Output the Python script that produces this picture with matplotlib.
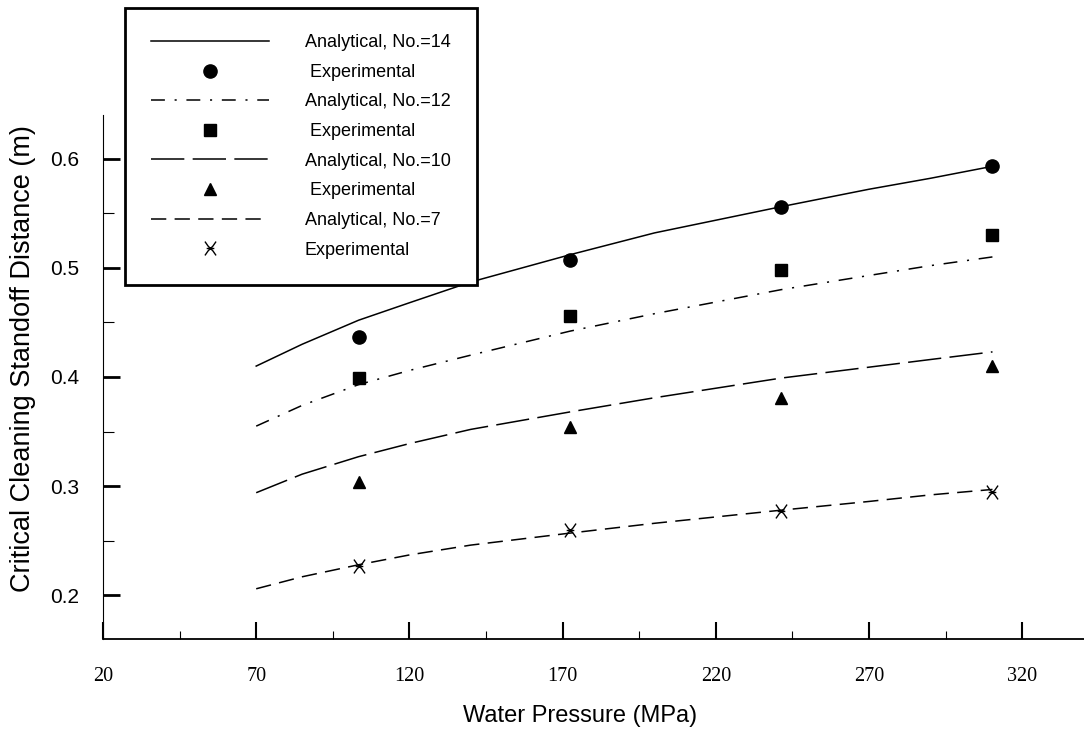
import numpy as np
import matplotlib
matplotlib.use("Agg")
import matplotlib.pyplot as plt
from matplotlib.path import Path

# analytical curves
x_line = [70, 85, 103.4, 120, 140, 172.4, 200, 241.3, 270, 290, 310.3]
y_no14 = [0.410, 0.430, 0.452, 0.468, 0.487, 0.512, 0.532, 0.556, 0.572, 0.582, 0.593]
y_no12 = [0.355, 0.374, 0.393, 0.406, 0.420, 0.442, 0.458, 0.480, 0.493, 0.502, 0.510]
y_no10 = [0.294, 0.311, 0.327, 0.339, 0.352, 0.368, 0.381, 0.399, 0.409, 0.416, 0.423]
y_no7 = [0.206, 0.217, 0.228, 0.237, 0.246, 0.257, 0.266, 0.278, 0.286, 0.292, 0.297]

# experimental points
x_exp = [103.4, 172.4, 241.3, 310.3]
e_no14 = [0.437, 0.507, 0.556, 0.593]
e_no12 = [0.399, 0.456, 0.498, 0.530]
e_no10 = [0.304, 0.354, 0.381, 0.410]
e_no7 = [0.227, 0.260, 0.277, 0.295]

xticks = [20, 70, 120, 170, 220, 270, 320]
yticks = [0.2, 0.3, 0.4, 0.5, 0.6]

plt.rcParams['lines.scale_dashes'] = False

# curved x with a bar, like the scanned marker
verts = [(-0.8, 1.0), (-0.35, 0.35), (0, 0), (0.35, 0.35), (0.8, 1.0),
         (-0.8, -1.0), (-0.35, -0.35), (0, 0), (0.35, -0.35), (0.8, -1.0),
         (-0.55, 0), (0.55, 0)]
codes = [Path.MOVETO, Path.LINETO, Path.LINETO, Path.LINETO, Path.LINETO,
         Path.MOVETO, Path.LINETO, Path.LINETO, Path.LINETO, Path.LINETO,
         Path.MOVETO, Path.LINETO]
star = Path(verts, codes)

fig = plt.figure(figsize=(10.84, 7.34), dpi=100)
ax = fig.add_axes([103/1084, 1-639/734, 980.5/1084, 524/734])

lw = 1.1
l14, = ax.plot(x_line, y_no14, color='black', lw=lw)
p14, = ax.plot(x_exp, e_no14, 'o', color='black', ms=9.5)
l12, = ax.plot(x_line, y_no12, color='black', lw=lw, dashes=(10, 7, 1.5, 7))
p12, = ax.plot(x_exp, e_no12, 's', color='black', ms=9)
l10, = ax.plot(x_line, y_no10, color='black', lw=lw, dashes=(24, 6))
p10, = ax.plot(x_exp, e_no10, '^', color='black', ms=9)
l7, = ax.plot(x_line, y_no7, color='black', lw=lw, dashes=(11, 6))
p7, = ax.plot(x_exp, e_no7, marker=star, ls='none', color='black',
              mfc='none', mew=1.0, ms=10)

ax.set_xlim(20, 340)
ax.set_ylim(0.16, 0.64)

for s in ['top', 'right']:
    ax.spines[s].set_visible(False)
ax.spines['left'].set_linewidth(0.8)
ax.spines['bottom'].set_linewidth(1.3)

ax.set_xticks(xticks)
ax.set_xticks([45, 95, 145, 195, 245, 295], minor=True)
ax.set_yticks(yticks)
ax.set_yticks([0.25, 0.35, 0.45, 0.55], minor=True)
ax.set_yticklabels(['0.2', '0.3', '0.4', '0.5', '0.6'])
ax.tick_params(axis='x', which='major', direction='in', length=12, width=1.5,
               pad=20, labelsize=14.5, labelfontfamily='Liberation Serif')
ax.tick_params(axis='x', which='minor', direction='in', length=6, width=0.8)
ax.tick_params(axis='y', which='major', direction='in', length=12, width=2,
               pad=17, labelsize=15, labelfontfamily='Liberation Sans')
ax.tick_params(axis='y', which='minor', direction='in', length=8, width=0.8)

fig.text(580/1084, 1-716/734, 'Water Pressure (MPa)', ha='center', va='center',
         fontsize=17, family='Liberation Sans')
fig.text(23/1084, 1-359/734, 'Critical Cleaning Standoff Distance (m)',
         rotation=90, ha='center', va='center', fontsize=19.5,
         family='Liberation Sans')

handles = [l14, p14, l12, p12, l10, p10, l7, p7]
labels = ['Analytical, No.=14', ' Experimental', 'Analytical, No.=12',
          ' Experimental', 'Analytical, No.=10', ' Experimental',
          'Analytical, No.=7', 'Experimental']
leg = fig.legend(handles, labels, loc='upper left',
                 bbox_to_anchor=(125/1084, 1-8/734), borderaxespad=0,
                 prop={'family': 'Liberation Sans', 'size': 13},
                 handlelength=6.5, handletextpad=2.0, labelspacing=0.7,
                 borderpad=1.45, numpoints=1, fancybox=False,
                 edgecolor='black', framealpha=1)
leg.get_frame().set_linewidth(2)

fig.savefig('out.png', dpi=100)
